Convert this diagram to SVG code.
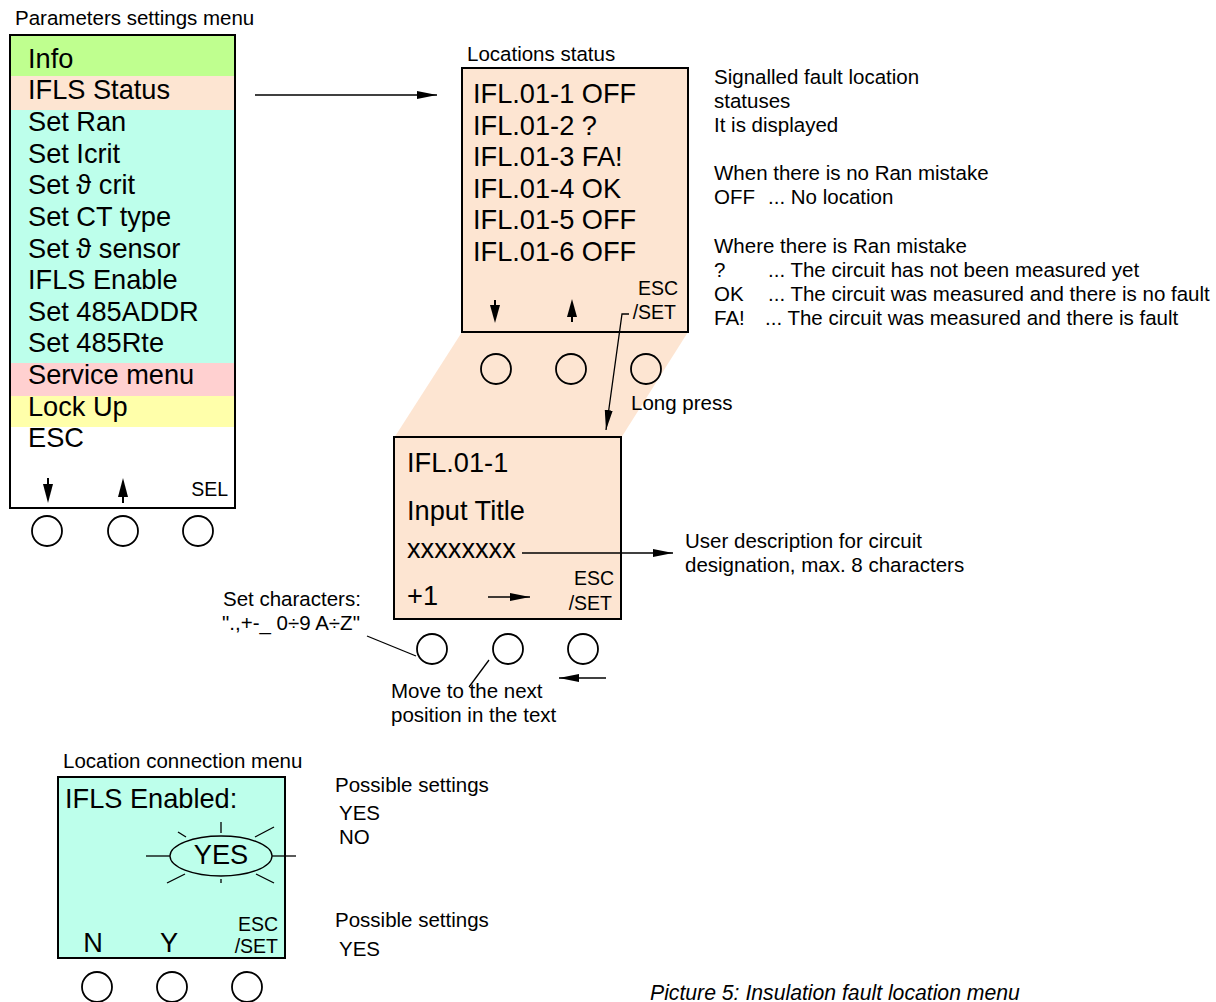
<svg xmlns="http://www.w3.org/2000/svg" width="1216" height="1002" viewBox="0 0 1216 1002">
<style>
text{font-family:"Liberation Sans",Arial,sans-serif;fill:#000}
.t{font-size:20.5px}
.m{font-size:27.2px}
.s{font-size:19.5px}
.box{stroke:#000;stroke-width:2}
.btn{fill:none;stroke:#000;stroke-width:1.8}
.ln{stroke:#000;stroke-width:1.3;fill:none}
.st{stroke:#000;stroke-width:2}
.r{text-anchor:end}
</style>
<defs>
<marker id="ah" viewBox="0 0 20 10" refX="20" refY="5" markerWidth="20" markerHeight="10" markerUnits="userSpaceOnUse" orient="auto">
<path d="M0,1 L20,5 L0,9 z" fill="#000"/>
</marker>
</defs>
<rect width="1216" height="1002" fill="#fff"/>

<!-- peach trapezoid -->
<polygon points="462,332 688,332 621,438 394,438" fill="#FDE5D2"/>

<g id="param-menu">
<text class="t" x="15" y="25">Parameters settings menu</text>
<rect x="10" y="35" width="225" height="473" fill="#fff"/>
<rect x="10" y="36" width="225" height="40" fill="#BFFF8F"/>
<rect x="10" y="76" width="225" height="34" fill="#FDE5D2"/>
<rect x="10" y="110" width="225" height="253" fill="#BDFFEB"/>
<rect x="10" y="363" width="225" height="33" fill="#FFD0D0"/>
<rect x="10" y="396" width="225" height="31" fill="#FFFFAA"/>
<rect x="10" y="35" width="225" height="473" fill="none" class="box"/>
<text class="m" x="28" y="68">Info</text>
<text class="m" x="28" y="99">IFLS Status</text>
<text class="m" x="28" y="131">Set Ran</text>
<text class="m" x="28" y="163">Set Icrit</text>
<text class="m" x="28" y="194">Set ϑ crit</text>
<text class="m" x="28" y="226">Set CT type</text>
<text class="m" x="28" y="258">Set ϑ sensor</text>
<text class="m" x="28" y="289">IFLS Enable</text>
<text class="m" x="28" y="321">Set 485ADDR</text>
<text class="m" x="28" y="352">Set 485Rte</text>
<text class="m" x="28" y="384">Service menu</text>
<text class="m" x="28" y="416">Lock Up</text>
<text class="m" x="28" y="447">ESC</text>
<line x1="48" y1="478" x2="48" y2="486" class="st"/>
<polygon points="43,484 53,484 48,503" fill="#000"/>
<line x1="123" y1="495" x2="123" y2="503" class="st"/>
<polygon points="118,497 128,497 123,478" fill="#000"/>
<text class="s r" x="228" y="496">SEL</text>
<circle cx="47" cy="531" r="15" class="btn"/>
<circle cx="123" cy="531" r="15" class="btn"/>
<circle cx="198" cy="531" r="15" class="btn"/>
</g>

<g id="locations-status">
<text class="t" x="467" y="61">Locations status</text>
<rect x="462" y="68" width="226" height="264" fill="#FDE5D2" class="box"/>
<text class="m" x="473" y="103">IFL.01-1 OFF</text>
<text class="m" x="473" y="135">IFL.01-2 ?</text>
<text class="m" x="473" y="166">IFL.01-3 FA!</text>
<text class="m" x="473" y="198">IFL.01-4 OK</text>
<text class="m" x="473" y="229">IFL.01-5 OFF</text>
<text class="m" x="473" y="261">IFL.01-6 OFF</text>
<line x1="495" y1="300" x2="495" y2="307" class="st"/>
<polygon points="490,305 500,305 495,323" fill="#000"/>
<line x1="572" y1="315" x2="572" y2="322" class="st"/>
<polygon points="567,317 577,317 572,299" fill="#000"/>
<text class="s r" x="678" y="295">ESC</text>
<text class="s r" x="676" y="319">/SET</text>
<circle cx="496" cy="369" r="15" class="btn"/>
<circle cx="571" cy="369" r="15" class="btn"/>
<circle cx="646" cy="369" r="15" class="btn"/>
<text class="t" x="631" y="410">Long press</text>
</g>

<g id="status-notes">
<text class="t" x="714" y="84">Signalled fault location</text>
<text class="t" x="714" y="108">statuses</text>
<text class="t" x="714" y="132">It is displayed</text>
<text class="t" x="714" y="180">When there is no Ran mistake</text>
<text class="t" x="714" y="204">OFF</text><text class="t" x="768" y="204">... No location</text>
<text class="t" x="714" y="253">Where there is Ran mistake</text>
<text class="t" x="714" y="277">?</text><text class="t" x="768" y="277">... The circuit has not been measured yet</text>
<text class="t" x="714" y="301">OK</text><text class="t" x="768" y="301">... The circuit was measured and there is no fault</text>
<text class="t" x="714" y="325">FA!</text><text class="t" x="765" y="325">... The circuit was measured and there is fault</text>
</g>

<g id="input-title">
<rect x="394" y="437" width="227" height="182" fill="#FDE5D2" class="box"/>
<text class="m" x="407" y="472">IFL.01-1</text>
<text class="m" x="407" y="520">Input Title</text>
<text class="m" x="407" y="558">xxxxxxxx</text>
<text class="m" x="407" y="605">+1</text>
<text class="s r" x="614" y="585">ESC</text>
<text class="s r" x="612" y="610">/SET</text>
<circle cx="432" cy="649" r="15" class="btn"/>
<circle cx="508" cy="649" r="15" class="btn"/>
<circle cx="583" cy="649" r="15" class="btn"/>
</g>

<g id="input-notes">
<text class="t" x="685" y="548">User description for circuit</text>
<text class="t" x="685" y="572">designation, max. 8 characters</text>
<text class="t" x="223" y="606">Set characters:</text>
<text class="t" x="222" y="630">".,+-_ 0÷9 A÷Z"</text>
<text class="t" x="391" y="698">Move to the next</text>
<text class="t" x="391" y="722">position in the text</text>
</g>

<g id="location-connection">
<text class="t" x="63" y="768">Location connection menu</text>
<rect x="58" y="777" width="227" height="181" fill="#BDFFEB" class="box"/>
<text class="m" x="65" y="808">IFLS Enabled:</text>
<ellipse cx="221" cy="856" rx="51" ry="20" fill="none" stroke="#000" stroke-width="1.3"/>
<text class="m" x="221" y="864" text-anchor="middle">YES</text>
<g class="ln">
<line x1="146" y1="856" x2="170" y2="856"/>
<line x1="272" y1="856" x2="296" y2="856"/>
<line x1="221" y1="822" x2="221" y2="833"/>
<line x1="221" y1="879" x2="221" y2="883"/>
<line x1="178" y1="832" x2="186" y2="837"/>
<line x1="255" y1="837" x2="274" y2="827"/>
<line x1="167" y1="883" x2="185" y2="874"/>
<line x1="256" y1="874" x2="274" y2="883"/>
</g>
<text class="m" x="93" y="952" text-anchor="middle">N</text>
<text class="m" x="169" y="952" text-anchor="middle">Y</text>
<text class="s r" x="278" y="931">ESC</text>
<text class="s r" x="278" y="953">/SET</text>
<circle cx="97" cy="987" r="15" class="btn"/>
<circle cx="172" cy="987" r="15" class="btn"/>
<circle cx="247" cy="987" r="15" class="btn"/>
</g>

<g id="settings-notes">
<text class="t" x="335" y="792">Possible settings</text>
<text class="t" x="339" y="820">YES</text>
<text class="t" x="339" y="844">NO</text>
<text class="t" x="335" y="927">Possible settings</text>
<text class="t" x="339" y="956">YES</text>
</g>

<text x="650" y="1000" font-size="21.2" font-style="italic">Picture 5: Insulation fault location menu</text>

<g id="connectors">
<line x1="255" y1="95" x2="437" y2="95" class="ln" marker-end="url(#ah)"/>
<polyline points="629,314 622,314 606,430" class="ln" marker-end="url(#ah)"/>
<line x1="522" y1="553" x2="673" y2="553" class="ln" marker-end="url(#ah)"/>
<line x1="488" y1="597" x2="530" y2="597" class="ln" marker-end="url(#ah)"/>
<line x1="606" y1="678" x2="559" y2="678" class="ln" marker-end="url(#ah)"/>
<line x1="367" y1="636" x2="416" y2="656" class="ln"/>
<line x1="469" y1="687" x2="489" y2="660" class="ln"/>
</g>
</svg>
